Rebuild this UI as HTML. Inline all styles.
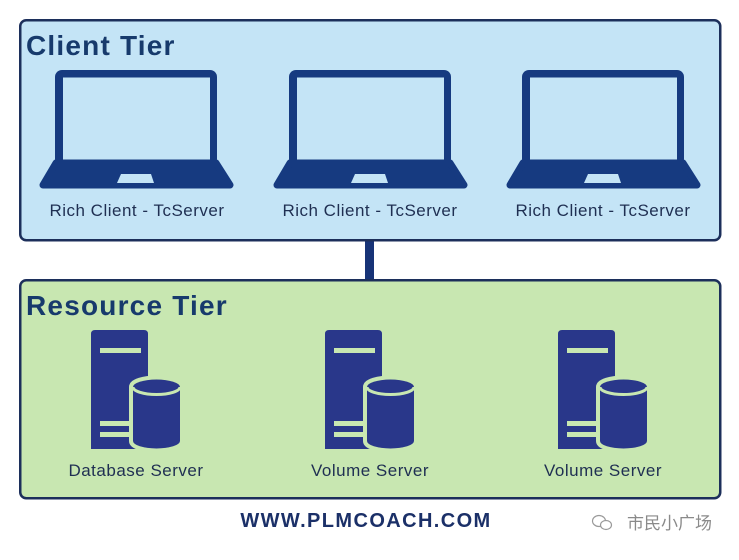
<!DOCTYPE html>
<html><head><meta charset="utf-8"><style>
html,body{margin:0;padding:0;background:#fff;}
svg{display:block;}
.lbl{font-family:"Liberation Sans",sans-serif;font-size:17px;letter-spacing:0.5px;fill:#1f2f52;}
.ttl{font-family:"Liberation Sans",sans-serif;font-size:28px;font-weight:bold;letter-spacing:1.2px;fill:#173a6c;}
</style></head><body>
<svg width="739" height="560" viewBox="0 0 739 560" xmlns="http://www.w3.org/2000/svg">
<rect width="739" height="560" fill="#ffffff"/>
<!-- connector -->
<rect x="365" y="240" width="9" height="41" fill="#173377"/>
<!-- client tier -->
<rect x="20.25" y="20.25" width="700" height="220" rx="6" fill="#c4e4f6" stroke="#1c2f5b" stroke-width="2.5"/>
<text x="26" y="55" class="ttl">Client Tier</text>
<!-- resource tier -->
<rect x="20.25" y="280.25" width="700" height="218" rx="6" fill="#c8e7b1" stroke="#1c2f5b" stroke-width="2.5"/>
<text x="26" y="315" class="ttl">Resource Tier</text>

<defs>
<g id="laptop">
  <rect x="-81" y="70" width="162" height="96" rx="7" fill="#163a80"/>
  <rect x="-73" y="77.5" width="147" height="86" fill="#c4e4f6"/>
  <path d="M-80 163 L80 163 L94 185 L-93 185 Z" fill="#163a80" stroke="#163a80" stroke-width="7" stroke-linejoin="round"/>
  <path d="M-15 174 L15 174 L18 183 L-19 183 Z" fill="#c4e4f6"/>
</g>
<g id="server">
  <path d="M-45 449 L-45 334 Q-45 330 -41 330 L8 330 Q12 330 12 334 L12 449 Z" fill="#29378a"/>
  <rect x="-36" y="348" width="41" height="5" fill="#c8e7b1"/>
  <rect x="-36" y="421" width="38" height="5" fill="#c8e7b1"/>
  <rect x="-36" y="432" width="38" height="5" fill="#c8e7b1"/>
  <path d="M-3 387 A23.5 7.5 0 0 1 44 387 L44 441 A23.5 7.5 0 0 1 -3 441 Z" fill="#29378a" stroke="#c8e7b1" stroke-width="8" paint-order="stroke"/>
  <path d="M-3 387 A23.5 7.5 0 0 0 44 387" fill="none" stroke="#c8e7b1" stroke-width="3"/>
</g>
</defs>

<use href="#laptop" x="136"/>
<use href="#laptop" x="370"/>
<use href="#laptop" x="603"/>
<text x="137" y="216" class="lbl" text-anchor="middle">Rich Client - TcServer</text>
<text x="370" y="216" class="lbl" text-anchor="middle">Rich Client - TcServer</text>
<text x="603" y="216" class="lbl" text-anchor="middle">Rich Client - TcServer</text>

<use href="#server" x="136"/>
<use href="#server" x="370"/>
<use href="#server" x="603"/>
<text x="136" y="476" class="lbl" text-anchor="middle">Database Server</text>
<text x="370" y="476" class="lbl" text-anchor="middle">Volume Server</text>
<text x="603" y="476" class="lbl" text-anchor="middle">Volume Server</text>

<text x="366" y="527" text-anchor="middle" style="font-family:'Liberation Sans',sans-serif;font-size:20px;font-weight:bold;letter-spacing:1.4px;fill:#1b3068;">WWW.PLMCOACH.COM</text>

<!-- wechat icon -->
<g fill="none" stroke="#9a9a9a" stroke-width="1.2">
  <ellipse cx="599" cy="521" rx="6.5" ry="5.5"/>
  <ellipse cx="606" cy="525" rx="5.5" ry="4.5" fill="#fff"/>
</g>
<text x="627" y="529" style="font-family:'Liberation Sans','Noto Sans CJK SC',sans-serif;font-size:17px;fill:#8a8a8a;">市民小广场</text>
</svg>
</body></html>
